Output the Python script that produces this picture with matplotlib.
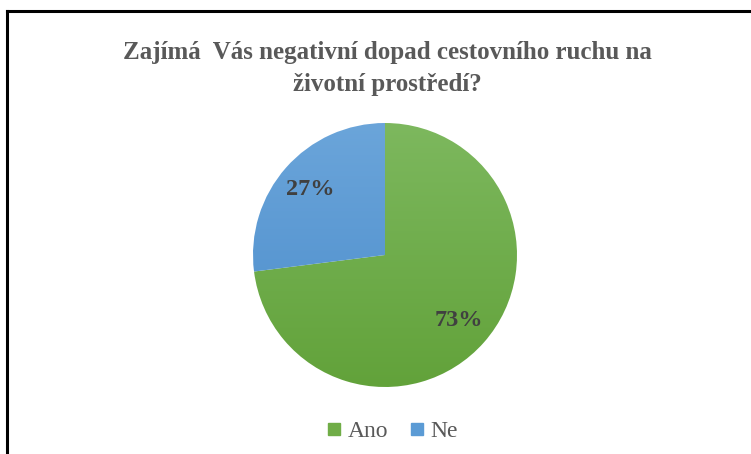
import matplotlib
matplotlib.use("Agg")
import matplotlib.pyplot as plt
import numpy as np
from matplotlib.lines import Line2D
from matplotlib.colors import LinearSegmentedColormap

title = "Zajímá  Vás negativní dopad cestovního ruchu na\nživotní prostředí?"
categories = ["Ano", "Ne"]
values = [73, 27]
colors_top = ["#7DB85E", "#6BA5DA"]
colors_bot = ["#62A23A", "#4A8CCB"]
colors = ["#70AD47", "#5B9BD5"]

fig = plt.figure(figsize=(7.51, 4.54), dpi=100)
# border lines (left and top)
fig.add_artist(Line2D([0.0093, 0.0093], [0, 0.976], color="black", lw=2.2, transform=fig.transFigure))
fig.add_artist(Line2D([0.0093, 1.0], [0.976, 0.976], color="black", lw=2.2, transform=fig.transFigure))

fig.text(387.5 / 751, 1 - 68 / 454, title, ha="center", va="center", fontsize=18, fontweight="bold",
         family="Liberation Serif", color="#595959", linespacing=1.5)

ax = fig.add_axes([0.0, 0.0, 1.0, 1.0])
r_px = 132
ax.set_position([(385 - r_px) / 751, (454 - 255 - r_px) / 454, 2 * r_px / 751, 2 * r_px / 454])
wedges, texts, autotexts = ax.pie(values, colors=colors, startangle=90, counterclock=False,
                                  autopct="%1.0f%%", pctdistance=0.75,
                                  textprops=dict(fontsize=17.5, fontweight="bold",
                                                 family="Liberation Serif", color="#404040"))
ax.set_xlim(-1, 1)
ax.set_ylim(-1, 1)
ax.set_aspect("equal")
for w, ct, cb in zip(wedges, colors_top, colors_bot):
    cmap = LinearSegmentedColormap.from_list("g", [cb, ct])
    grad = np.linspace(0, 1, 256).reshape(-1, 1)
    im = ax.imshow(grad, cmap=cmap, extent=(-1, 1, -1, 1), origin="lower", aspect="auto", zorder=w.get_zorder())
    im.set_clip_path(w)
    w.set_facecolor("none")
    w.set_edgecolor("none")
for t in autotexts:
    t.set_zorder(5)
ax.set_xlim(-1, 1)
ax.set_ylim(-1, 1)
ax.axis("off")

handles = [plt.Line2D([0], [0], marker="s", linestyle="none", markersize=9,
                      markerfacecolor=c, markeredgecolor=c) for c in colors]
fig.legend(handles, categories, loc="center", bbox_to_anchor=(390 / 751, 1 - 431 / 454),
           ncol=2, frameon=False, prop=dict(family="Liberation Serif", size=17),
           labelcolor="#595959", handletextpad=0.1, columnspacing=0.7, handlelength=1.0)

fig.savefig("out.png", dpi=100)
